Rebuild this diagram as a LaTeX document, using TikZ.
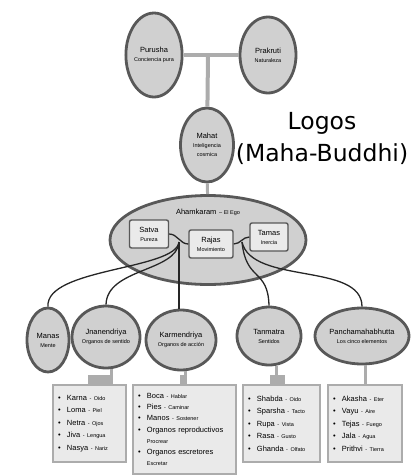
\documentclass[tikz,border=0pt]{standalone}
\usepackage{fontspec}
\setmainfont{Liberation Sans}
\newfontfamily\logofont{DejaVu Sans}
\usetikzlibrary{shapes.geometric}

\definecolor{cgray}{RGB}{208,208,208}
\definecolor{dgray}{RGB}{88,88,88}
\definecolor{lgray}{RGB}{234,234,234}
\definecolor{bgray}{RGB}{172,172,172}

\newcommand{\lbl}[2]{{\fontsize{7.5}{9}\selectfont #1}\\[-3pt]{\fontsize{5.5}{6.5}\selectfont #2}}
\newcommand{\itm}[2]{\makebox[9pt][l]{\textbullet}#1 {\fontsize{5.5}{6}\selectfont - #2}}

\begin{document}
\begin{tikzpicture}[
  x=1pt,y=-1pt,
  ell/.style={ellipse,draw=dgray,line width=2.8pt,fill=cgray,inner sep=0pt,align=center},
  guna/.style={rectangle,rounded corners=2pt,draw=dgray,line width=1.4pt,fill=lgray,align=center,inner sep=1pt},
  lst/.style={rectangle,draw=bgray,line width=1.6pt,fill=lgray,align=left,inner sep=5pt,font=\fontsize{7.5}{12.5}\selectfont},
  bar/.style={draw=bgray,line width=4pt},
  stem/.style={draw=bgray,line width=3pt},
  link/.style={draw=black!85,line width=1.3pt},
  logo/.style={align=center,font=\logofont\fontsize{23.5}{32}\selectfont}
]
\useasboundingbox (0,0) rectangle (417,475);
% top pair
\node[ell,minimum width=55pt,minimum height=84pt] (purusha) at (154,55) {\lbl{Purusha}{Conciencia pura}};
\node[ell,minimum width=56pt,minimum height=76pt] (prakruti) at (268,55) {\lbl{Prakruti}{Naturaleza}};
\coordinate (tee) at (208,55);
\node[ell,minimum width=53pt,minimum height=74pt] (mahat) at (207,145) {{\fontsize{7.5}{9}\selectfont Mahat}\\[-3pt]{\fontsize{5.5}{6.5}\selectfont Inteligencia}\\[-3pt]{\fontsize{5.5}{6.5}\selectfont cosmica}};
\node[logo] (logos) at (322,138) {Logos\\(Maha-Buddhi)};
\draw[bar] (purusha) -- (prakruti);
\draw[bar] (tee) -- (mahat);
% ego and gunas
\node[ell,minimum width=196pt,minimum height=89pt] (aham) at (208,240) {};
\draw[bar,line width=3pt] (mahat) -- (aham);
\node (ego) at (208,212) {{\fontsize{7.5}{9}\selectfont Ahamkaram} {\fontsize{5.5}{6.5}\selectfont -- El Ego}};
\node[guna,minimum width=39pt,minimum height=28pt] (satva) at (149,234) {\lbl{Satva}{Pureza}};
\node[guna,minimum width=44pt,minimum height=28pt] (rajas) at (211,244) {\lbl{Rajas}{Movimiento}};
\node[guna,minimum width=38pt,minimum height=28pt] (tamas) at (269,237) {\lbl{Tamas}{Inercia}};
\draw[link] (satva.east) to[out=0,in=180] (rajas.west);
\draw[link] (rajas.east) to[out=0,in=180] (tamas.west);
\coordinate (j1) at (179,242);
\coordinate (j2) at (242,242);
% five tattvas
\node[ell,minimum width=42pt,minimum height=64pt] (manas) at (48,340) {\lbl{Manas}{Mente}};
\node[ell,minimum width=68pt,minimum height=62pt] (jnan) at (106,337) {\lbl{Jnanendriya}{Organos de sentido}};
\node[ell,minimum width=70pt,minimum height=60pt] (karm) at (181,340) {\lbl{Karmendriya}{Organos de acción}};
\node[ell,minimum width=64pt,minimum height=58pt] (tanm) at (269,336) {\lbl{Tanmatra}{Sentidos}};
\node[ell,minimum width=94pt,minimum height=56pt] (pancha) at (362,336) {\lbl{Panchamahabhutta}{Los cinco elementos}};
\draw[link] (j1) .. controls (176,270) and (45,268) .. (manas.north);
\draw[link] (j1) .. controls (177,272) and (107,268) .. (jnan.north);
\draw[link] (j1) -- (j1 |- karm.north);
\draw[link] (j2) .. controls (246,282) and (268,268) .. (tanm.north);
\draw[link] (j2) .. controls (252,285) and (362,262) .. (pancha.north);
% lists
\node[lst,minimum width=73pt,minimum height=77pt,text width=63pt] (jlist) at (89.5,423.5) {\itm{Karna}{Oido}\\\itm{Loma}{Piel}\\\itm{Netra}{Ojos}\\\itm{Jiva}{Lengua}\\\itm{Nasya}{Nariz}};
\node[lst,minimum width=103pt,minimum height=89pt,text width=93pt,font=\fontsize{7.5}{11.3}\selectfont] (klist) at (184.5,429.5) {\itm{Boca}{Hablar}\\\itm{Pies}{Caminar}\\\itm{Manos}{Sostener}\\\makebox[9pt][l]{\textbullet}Organos reproductivos\\\hspace*{9pt}{\fontsize{5.5}{6}\selectfont Procrear}\\\makebox[9pt][l]{\textbullet}Organos escretores\\\hspace*{9pt}{\fontsize{5.5}{6}\selectfont Escretar}};
\node[lst,minimum width=77pt,minimum height=77pt,text width=67pt] (tlist) at (281.5,423.5) {\itm{Shabda}{Oido}\\\itm{Sparsha}{Tacto}\\\itm{Rupa}{Vista}\\\itm{Rasa}{Gusto}\\\itm{Ghanda}{Olfato}};
\node[lst,minimum width=74pt,minimum height=77pt,text width=64pt] (plist) at (365,423.5) {\itm{Akasha}{Eter}\\\itm{Vayu}{Aire}\\\itm{Tejas}{Fuego}\\\itm{Jala}{Agua}\\\itm{Prithvi}{Tierra}};
\draw[stem] (jnan.-80) -- (jnan.-80 |- jlist.north);
\draw[stem] (karm.-82) -- (karm.-82 |- klist.north);
\draw[stem] (tanm.-75) -- (tanm.-75 |- tlist.north);
\draw[stem] (pancha.-83) -- (pancha.-83 |- plist.north);
\fill[bgray] (88,375) rectangle (112,386);
\fill[bgray] (180,375) rectangle (187,386);
\fill[bgray] (270,375) rectangle (285,386);
\end{tikzpicture}
\end{document}
